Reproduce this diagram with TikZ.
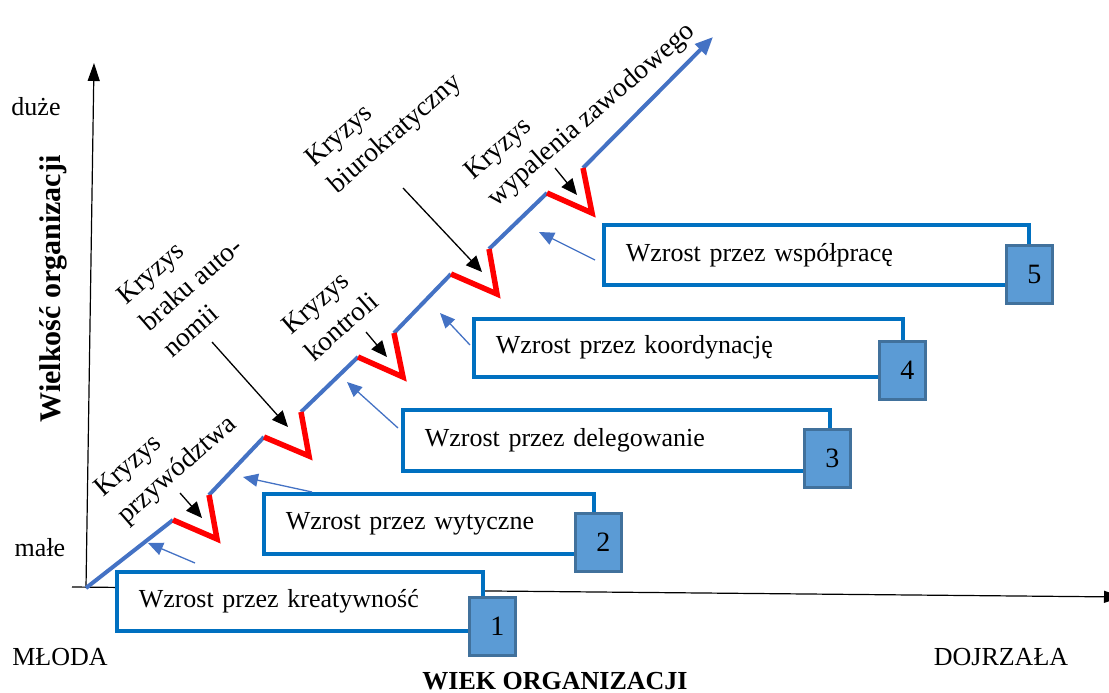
\documentclass[tikz,border=0pt]{standalone}
\usepackage{fontspec}
\setmainfont{Liberation Serif}
\usetikzlibrary{arrows.meta}
\definecolor{mainblue}{HTML}{4472C4}
\definecolor{boxblue}{HTML}{0070C0}
\definecolor{sqfill}{HTML}{5B9BD5}
\definecolor{sqdraw}{HTML}{41719C}
\definecolor{crisisred}{HTML}{FF0000}
\newcommand\sqnum[1]{\hspace*{10pt}\raisebox{-3pt}{#1}}
\begin{document}
\begin{tikzpicture}[x=1pt,y=-1pt,
  lbl/.style={font=\fontsize{26}{34}\selectfont, inner sep=0pt},
  crisis/.style={inner sep=0pt, font=\fontsize{27.5}{35}\selectfont, align=left, rotate=41, anchor=north west},
  growbox/.style={draw=boxblue, line width=3.5pt, fill=white, anchor=north west,
    inner ysep=0pt, inner xsep=22pt, font=\fontsize{26}{34}\selectfont, align=left},
  numsq/.style={draw=sqdraw, fill=sqfill, line width=2.5pt, anchor=north west,
    minimum width=46pt, minimum height=58pt, inner sep=0pt, font=\fontsize{28}{34}\selectfont},
  growth/.style={draw=mainblue, line width=4pt},
  jump/.style={draw=crisisred, line width=5.5pt, line join=miter},
  pointer/.style={black, line width=1.3pt, -{Triangle[length=16pt,width=14pt]}},
  growarrow/.style={mainblue, line width=1.3pt, -{Triangle[length=15pt,width=13pt]}},
  axis/.style={black, line width=1.2pt, -{Triangle[length=18pt,width=12pt]}}
]
\useasboundingbox (0,0) rectangle (1109,693);

% axes
\coordinate (yb) at (86,588);
\coordinate (yt) at (94,63);
\coordinate (xl) at (72,587);
\coordinate (xr) at (1122,597);
\draw[axis] (yb) -- (yt);
\draw[axis] (xl) -- (xr);

% axis labels
\node[lbl, anchor=base] (duze) at (36,115) {duże};
\node[lbl, anchor=base] (male) at (40,556) {małe};
\node[lbl, anchor=base] (mloda) at (60,665) {MŁODA};
\node[lbl, anchor=base] (dojrzala) at (1001,665) {DOJRZAŁA};
\node[lbl, anchor=base, font=\fontsize{26}{34}\selectfont\bfseries] (wiek) at (555,689) {WIEK ORGANIZACJI};
\node[lbl, anchor=base, rotate=90, font=\fontsize{30}{36}\selectfont\bfseries] (wielkosc) at (60,289) {Wielkość organizacji};

% growth path
\coordinate (o) at (86,588);
\coordinate (r1a) at (173,520); \coordinate (r1b) at (217,539); \coordinate (r1c) at (209,495);
\coordinate (r2a) at (264,437); \coordinate (r2b) at (309,456); \coordinate (r2c) at (301,412);
\coordinate (r3a) at (358,357); \coordinate (r3b) at (403,377); \coordinate (r3c) at (394,333);
\coordinate (r4a) at (451,274); \coordinate (r4b) at (497,294); \coordinate (r4c) at (489,249);
\coordinate (r5a) at (547,193); \coordinate (r5b) at (592,213); \coordinate (r5c) at (583,168);
\coordinate (tip) at (713,37);

\draw[growth] (o) -- (r1a);
\draw[growth] (r1c) -- (r2a);
\draw[growth] (r2c) -- (r3a);
\draw[growth] (r3c) -- (r4a);
\draw[growth] (r4c) -- (r5a);
\draw[growth, -{Triangle[length=18pt,width=15pt]}] (r5c) -- (tip);

\draw[jump] (r1a) -- (r1b) -- (r1c);
\draw[jump] (r2a) -- (r2b) -- (r2c);
\draw[jump] (r3a) -- (r3b) -- (r3c);
\draw[jump] (r4a) -- (r4b) -- (r4c);
\draw[jump] (r5a) -- (r5b) -- (r5c);

% crisis labels
\node[crisis] (k1) at (91,484) {Kryzys\\przywództwa};
\node[crisis] (k2) at (114,292) {Kryzys\\braku auto-\\nomii};
\node[crisis] (k3) at (279,322) {Kryzys\\kontroli};
\node[crisis] (k4) at (302,154) {Kryzys\\biurokratyczny};
\node[crisis] (k5) at (461,167) {Kryzys\\wypalenia zawodowego};

% crisis pointers
\coordinate (p1s) at (180,493); \coordinate (p1e) at (202,518);
\coordinate (p2s) at (212,342); \coordinate (p2e) at (288,427);
\coordinate (p3s) at (366,332); \coordinate (p3e) at (387,357);
\coordinate (p4s) at (403,188); \coordinate (p4e) at (482,272);
\coordinate (p5s) at (555,168); \coordinate (p5e) at (577,195);
\draw[pointer] (p1s) -- (p1e);
\draw[pointer] (p2s) -- (p2e);
\draw[pointer] (p3s) -- (p3e);
\draw[pointer] (p4s) -- (p4e);
\draw[pointer] (p5s) -- (p5e);

% growth boxes
\node[growbox, text width=322pt, minimum height=59pt] (b1) at (115,570) {Wzrost przez kreatywność};
\node[growbox, text width=286pt, minimum height=60pt] (b2) at (262,492) {Wzrost przez wytyczne};
\node[growbox, text width=383pt, minimum height=61pt] (b3) at (401,408) {Wzrost przez delegowanie};
\node[growbox, text width=385pt, minimum height=58pt] (b4) at (472,317) {Wzrost przez koordynację};
\node[growbox, text width=381pt, minimum height=60pt] (b5) at (602,223) {Wzrost przez współpracę};

% number squares
\node[numsq] (s1) at (468,596) {\sqnum{1}};
\node[numsq] (s2) at (574,512) {\sqnum{2}};
\node[numsq] (s3) at (803,428) {\sqnum{3}};
\node[numsq] (s4) at (878,340) {\sqnum{4}};
\node[numsq] (s5) at (1005,244) {\sqnum{5}};

% growth pointers
\coordinate (g1s) at (195,563); \coordinate (g1e) at (148,543);
\coordinate (g2s) at (312,492); \coordinate (g2e) at (243,477);
\coordinate (g3s) at (398,428); \coordinate (g3e) at (347,382);
\coordinate (g4s) at (470,345); \coordinate (g4e) at (440,313);
\coordinate (g5s) at (595,260); \coordinate (g5e) at (539,232);
\draw[growarrow] (g1s) -- (g1e);
\draw[growarrow] (g2s) -- (g2e);
\draw[growarrow] (g3s) -- (g3e);
\draw[growarrow] (g4s) -- (g4e);
\draw[growarrow] (g5s) -- (g5e);
\end{tikzpicture}
\end{document}
